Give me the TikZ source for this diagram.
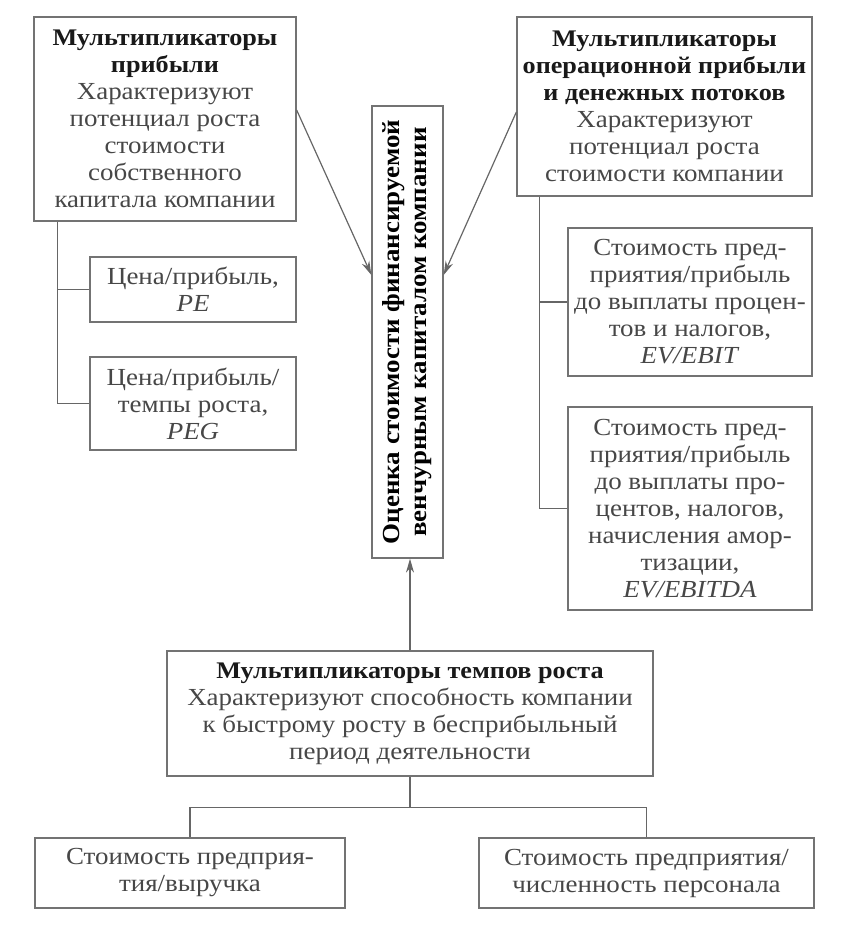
\documentclass[tikz,border=0pt]{standalone}
\usepackage{fontspec}
\usepackage{graphicx}
\setmainfont{Liberation Serif}[FakeStretch=1.1]
\usetikzlibrary{arrows.meta}

\tikzset{
  box/.style={draw=black!55, line width=1.3pt, align=center, inner sep=1pt,
    text=black!72, font=\fontsize{24.5}{27}\selectfont},
  link/.style={draw=black!60, line width=1.2pt},
}
\newcommand{\hd}[1]{{\fontsize{23.8}{27}\selectfont\bfseries\color{black!90}#1}}

\begin{document}
\begin{tikzpicture}[x=1pt, y=-1pt, >={Stealth[length=14pt,width=8pt]}]
    \useasboundingbox (0,0) rectangle (842,926);

    % left group
    \node (LT) [box, minimum width=262pt, minimum height=204pt] at (165,119)
        {\hd{Мультипликаторы}\\ \hd{прибыли}\\ Характеризуют\\ потенциал роста\\ стоимости\\ собственного\\ капитала компании};
    \node (PE) [box, minimum width=206pt, minimum height=65pt] at (193,289.5)
        {Цена/прибыль,\\ \textit{PE}};
    \node (PEG) [box, minimum width=206pt, minimum height=93pt] at (193,403.5)
        {Цена/прибыль/\\ темпы роста,\\ \textit{PEG}};

    % centre
    \node (VC) [box, minimum width=71pt, minimum height=452pt, inner sep=0pt, text=black] at (407.5,332)
        {\rotatebox{90}{\begin{tabular}{@{}c@{}}\bfseries Оценка стоимости финансируемой\\ \bfseries венчурным капиталом компании\end{tabular}}};

    % right group
    \node (RT) [box, minimum width=295pt, minimum height=179pt] at (664.5,106.5)
        {\hd{Мультипликаторы}\\ \hd{операционной прибыли}\\ \hd{и денежных потоков}\\ Характеризуют\\ потенциал роста\\ стоимости компании};
    \node (EBIT) [box, minimum width=244pt, minimum height=148pt] at (690,302)
        {Стоимость пред-\\ приятия/прибыль\\ до выплаты процен-\\ тов и налогов,\\ \textit{EV/EBIT}};
    \node (EBITDA) [box, minimum width=244pt, minimum height=203pt] at (690,508.5)
        {Стоимость пред-\\ приятия/прибыль\\ до выплаты про-\\ центов, налогов,\\ начисления амор-\\ тизации,\\ \textit{EV/EBITDA}};

    % bottom group
    \node (GR) [box, minimum width=486pt, minimum height=125pt] at (410,713.5)
        {\hd{Мультипликаторы темпов роста}\\ Характеризуют способность компании\\ к быстрому росту в бесприбыльный\\ период деятельности};
    \node (BL) [box, minimum width=310pt, minimum height=70pt] at (190,873)
        {Стоимость предприя-\\ тия/выручка};
    \node (BR) [box, minimum width=335pt, minimum height=70pt] at (646.5,873)
        {Стоимость предприятия/\\ численность персонала};

    \draw[link] (LT.south west) ++(24,0) coordinate (lttrunk) |- (PE.west);
    \draw[link] (lttrunk) |- (PEG.west);
    \draw[link] (RT.south west) ++(23,0) coordinate (rttrunk) |- (EBIT.west);
    \draw[link] (rttrunk) |- (EBITDA.west);

    \draw[link, ->] ([yshift=9pt]LT.east) -- ([yshift=57pt]VC.west);
    \draw[link, ->] ([yshift=-5.5pt]RT.west) -- ([yshift=57pt]VC.east);
    \draw[link, ->] (GR.north) -- (GR.north |- VC.south);

    \draw[link] (GR.south) -- ++(0,31) coordinate (fork);
    \draw[link] (fork) -| (BL.north);
    \draw[link] (fork) -| (BR.north);
\end{tikzpicture}
\end{document}
